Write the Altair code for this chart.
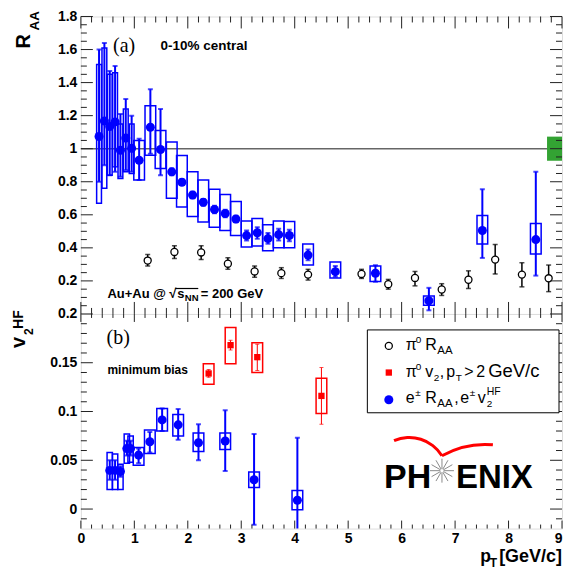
import altair as alt
import pandas as pd

# ---------------- data: upper panel, R_AA ----------------
raa_pt      = [0.34, 0.44, 0.54, 0.64, 0.74, 0.84, 0.95, 1.09, 1.30, 1.49, 1.70, 1.89, 2.09, 2.29,
               2.50, 2.70, 2.90, 3.10, 3.30, 3.50, 3.70, 3.90, 4.25, 4.76, 5.51, 6.51, 7.51, 8.51]
raa_val     = [1.074, 1.168, 1.134, 1.162, 0.990, 1.064, 1.002, 0.930, 1.130, 0.995, 0.860, 0.797, 0.720, 0.676,
               0.632, 0.608, 0.575, 0.474, 0.491, 0.456, 0.480, 0.475, 0.356, 0.256, 0.246, 0.080, 0.505, 0.450]
raa_stat_lo = [0.80, 0.90, 0.84, 0.86, 0.83, 0.87, 0.86, 0.81, 0.97, 0.84, 0.84, 0.78, 0.70, 0.655,
               0.61, 0.585, 0.555, 0.445, 0.455, 0.425, 0.445, 0.44, 0.325, 0.225, 0.195, 0.022, 0.339, 0.232]
raa_stat_hi = [1.60, 1.64, 1.47, 1.50, 1.21, 1.30, 1.20, 1.06, 1.36, 1.24, 0.88, 0.815, 0.74, 0.695,
               0.655, 0.63, 0.595, 0.505, 0.525, 0.49, 0.515, 0.51, 0.39, 0.29, 0.295, 0.158, 0.754, 0.861]
raa_sys_lo  = [0.67, 0.76, 0.84, 0.89, 0.82, 0.86, 0.85, 0.81, 0.96, 0.88, 0.70, 0.647, 0.589, 0.557,
               0.525, 0.505, 0.475, 0.405, 0.411, 0.382, 0.40, 0.40, 0.296, 0.218, 0.197, 0.053, 0.423, 0.363]
raa_sys_hi  = [1.51, 1.61, 1.45, 1.46, 1.15, 1.24, 1.15, 1.05, 1.26, 1.11, 1.04, 0.959, 0.861, 0.811,
               0.754, 0.723, 0.68, 0.563, 0.577, 0.54, 0.563, 0.56, 0.423, 0.314, 0.29, 0.109, 0.596, 0.548]
raa_sys_hw  = [0.045] * 7 + [0.1] * 21

pi0_pt  = [1.25, 1.75, 2.25, 2.75, 3.25, 3.75, 4.25, 5.25, 5.75, 6.25, 6.75, 7.25, 7.75, 8.25, 8.75]
pi0_val = [0.323, 0.375, 0.372, 0.304, 0.257, 0.247, 0.238, 0.242, 0.180, 0.218, 0.148, 0.207, 0.329, 0.238, 0.216]
pi0_lo  = [0.29, 0.335, 0.33, 0.27, 0.222, 0.215, 0.205, 0.215, 0.150, 0.170, 0.112, 0.154, 0.242, 0.164, 0.135]
pi0_hi  = [0.36, 0.413, 0.413, 0.34, 0.29, 0.28, 0.27, 0.27, 0.209, 0.257, 0.183, 0.261, 0.421, 0.31, 0.296]

norm_pt = [8.72, 9.0]
norm_band = [0.927, 1.073]
ref_line = [1.0]

# ---------------- data: lower panel, v2 ----------------
v2_pt      = [0.54, 0.64, 0.74, 0.86, 0.93, 1.08, 1.29, 1.52, 1.82, 2.20, 2.70, 3.24, 4.05]
v2_val     = [0.0396, 0.0396, 0.0385, 0.062, 0.062, 0.0553, 0.069, 0.0914, 0.0863, 0.068, 0.0698, 0.030, 0.009]
v2_stat_lo = [0.030, 0.030, 0.033, 0.055, 0.055, 0.047, 0.058, 0.080, 0.071, 0.050, 0.039, -0.016, -0.030]
v2_stat_hi = [0.050, 0.050, 0.044, 0.070, 0.070, 0.062, 0.079, 0.103, 0.1025, 0.087, 0.1014, 0.077, 0.073]
v2_sys_lo  = [0.020, 0.020, 0.020, 0.047, 0.048, 0.045, 0.057, 0.080, 0.075, 0.059, 0.061, 0.022, -0.0006]
v2_sys_hi  = [0.058, 0.0565, 0.046, 0.077, 0.075, 0.063, 0.081, 0.103, 0.097, 0.078, 0.078, 0.038, 0.019]
v2_sys_hw  = [0.05] * 5 + [0.1] * 8

pv2_pt      = [2.39, 2.80, 3.30, 4.50]
pv2_val     = [0.139, 0.168, 0.1557, 0.116]
pv2_stat_lo = [0.135, 0.163, 0.142, 0.087]
pv2_stat_hi = [0.143, 0.173, 0.169, 0.145]
pv2_sys_lo  = [0.128, 0.149, 0.140, 0.098]
pv2_sys_hi  = [0.149, 0.186, 0.1705, 0.134]
pv2_sys_hw  = [0.1] * 4

# ---------------- axis tick values ----------------
top_y_labels = [0.2, 0.4, 0.6, 0.8, 1.0, 1.2, 1.4, 1.6, 1.8]
top_y_minor = [round(0.05 * i, 2) for i in range(1, 36) if i % 4 != 0]
bot_y_labels = [0.0, 0.05, 0.1, 0.15, 0.2]
bot_y_minor = [round(0.01 * i, 2) for i in range(-1, 20) if i % 5 != 0]
x_labels = list(range(10))
x_minor = [round(0.2 * i, 1) for i in range(1, 45) if i % 5 != 0]

# ---------------- styling ----------------
W, H1, H2 = 482, 298, 215
K = W / 489.0          # annotation x positions were read on a 489 px wide frame
BLUE, RED, GREEN = "#0000ff", "#ff0000", "#33a333"
FONT, SERIF = "Liberation Sans", "Liberation Serif"

xs = alt.Scale(domain=[0, 9], nice=False, zero=False)
ys1 = alt.Scale(domain=[0, 1.8], nice=False, zero=False)
ys2 = alt.Scale(domain=[-0.02, 0.2], nice=False, zero=False)

lab = dict(labelFont=FONT, labelFontSize=14, labelFontWeight="bold", labelColor="black",
           ticks=False, domain=False, grid=False, title=None, labelOverlap=False)
y1_axis = alt.Axis(values=top_y_labels, format="~g", labelPadding=4, **lab)
y2_axis = alt.Axis(values=bot_y_labels, format="~g", labelPadding=4, **lab)
x_axis = alt.Axis(values=x_labels, format="d", labelPadding=3, labelFlush=False,
                  labelAlign={"condition": {"test": "datum.value == 9", "value": "right"},
                              "value": "center"}, **lab)


class Panel:
    def __init__(self, ysc, xaxis, yaxis, H):
        self.ysc, self.xaxis, self.yaxis, self.H = ysc, xaxis, yaxis, H

    def X(self, f):
        return alt.X(f, type="quantitative", scale=xs, axis=self.xaxis)

    def Y(self, f):
        return alt.Y(f, type="quantitative", scale=self.ysc, axis=self.yaxis)

    def ticks(self, vals, axis, length):
        base = alt.Chart(pd.DataFrame({"v": vals})).mark_rule(color="#222", strokeWidth=1)
        if axis == "y":
            return [base.encode(y=self.Y("v"), x=alt.value(0), x2=alt.value(length)),
                    base.encode(y=self.Y("v"), x=alt.value(W - length), x2=alt.value(W))]
        return [base.encode(x=self.X("v"), y=alt.value(self.H - length), y2=alt.value(self.H)),
                base.encode(x=self.X("v"), y=alt.value(0), y2=alt.value(length))]

    def boxes(self, df, color, box_w):
        return alt.Chart(df).mark_rect(filled=False, color=color, strokeWidth=box_w).encode(
            x=self.X("x0"), x2="x1", y=self.Y("slo"), y2="shi")

    def bars(self, df, color, err_w, cap_w, dot_kind=None, dot_size=0):
        base = alt.Chart(df)
        layers = [
            base.mark_rule(color=color, strokeWidth=err_w, clip=True).encode(
                x=self.X("pt"), y=self.Y("elo"), y2="ehi"),
            base.mark_tick(orient="horizontal", color=color, size=cap_w, thickness=err_w,
                           clip=True).encode(x=self.X("pt"), y=self.Y("elo")),
            base.mark_tick(orient="horizontal", color=color, size=cap_w, thickness=err_w,
                           clip=True).encode(x=self.X("pt"), y=self.Y("ehi")),
        ]
        if dot_kind == "circle":
            layers.append(base.mark_circle(color=color, size=dot_size, opacity=1).encode(
                x=self.X("pt"), y=self.Y("v")))
        elif dot_kind == "square":
            layers.append(base.mark_square(color=color, size=dot_size, opacity=1).encode(
                x=self.X("pt"), y=self.Y("v")))
        elif dot_kind == "open":
            layers.append(base.mark_point(shape="circle", filled=True, fill="white", stroke="black",
                                          strokeWidth=1.3, size=dot_size, opacity=1).encode(
                x=self.X("pt"), y=self.Y("v")))
        return layers


def one():
    return alt.Chart(pd.DataFrame({"a": [0]}))


def T(text, x, y, size, weight="normal", font=FONT, color="black", align="left",
      baseline="alphabetic", angle=0):
    return alt.Chart(pd.DataFrame({"t": [text]})).mark_text(
        font=font, fontSize=size, fontWeight=weight, color=color, align=align,
        baseline=baseline, angle=angle
    ).encode(text="t:N", x=alt.value(x), y=alt.value(y))


def frame(pt, v, elo, ehi, slo, shi, hw):
    d = pd.DataFrame(dict(pt=pt, v=v, elo=elo, ehi=ehi, slo=slo, shi=shi, hw=hw))
    d["x0"] = d.pt - d.hw
    d["x1"] = d.pt + d.hw
    return d


raa = frame(raa_pt, raa_val, raa_stat_lo, raa_stat_hi, raa_sys_lo, raa_sys_hi, raa_sys_hw)
v2 = frame(v2_pt, v2_val, v2_stat_lo, v2_stat_hi, v2_sys_lo, v2_sys_hi, v2_sys_hw)
pv2 = frame(pv2_pt, pv2_val, pv2_stat_lo, pv2_stat_hi, pv2_sys_lo, pv2_sys_hi, pv2_sys_hw)
pi0 = pd.DataFrame(dict(pt=pi0_pt, v=pi0_val, elo=pi0_lo, ehi=pi0_hi))
norm = pd.DataFrame(dict(x0=[norm_pt[0]], x1=[norm_pt[1]], y0=[norm_band[0]], y1=[norm_band[1]]))

DOT = 82

# ---------------- upper panel ----------------
P1 = Panel(ys1, None, y1_axis, H1)
top_layers = [
    alt.Chart(pd.DataFrame({"y": ref_line})).mark_rule(color="#666", strokeWidth=1.5).encode(
        y=P1.Y("y"), x=alt.value(0), x2=alt.value(W)),
    alt.Chart(norm).mark_rect(color=GREEN).encode(x=P1.X("x0"), x2="x1", y=P1.Y("y0"), y2="y1"),
    P1.boxes(raa, BLUE, 1.5),
]
top_layers += P1.bars(pi0, "black", 1.5, 5, "open", 50)
top_layers += P1.bars(raa, BLUE, 2, 5, "circle", DOT)
top_layers += P1.ticks(top_y_labels, "y", 12) + P1.ticks(top_y_minor, "y", 6)
top_layers += P1.ticks(x_labels, "x", 12) + P1.ticks(x_minor, "x", 6)
B = H1 - 16
a0 = 27 * K
top_layers += [
    T("(a)", 44 * K, 36, 20, font=SERIF, align="center"),
    T("0-10% central", 81 * K, 34, 13.5, weight="bold"),
    T("Au+Au @", a0, B, 13, weight="bold"),
    T("\u221a", a0 + 62, B, 13, weight="bold"),
    T("s", a0 + 70, B, 13, weight="bold"),
    T("NN", a0 + 77.5, B + 3, 9.5, weight="bold"),
    T("= 200 GeV", a0 + 93.5, B, 13, weight="bold"),
    one().mark_rule(color="black", strokeWidth=1.2).encode(
        x=alt.value(a0 + 68), x2=alt.value(a0 + 91), y=alt.value(H1 - 25.5)),
    T("R", -51, 32, 20, weight="bold", angle=270),
    T("AA", -42, 14, 13.5, weight="bold", angle=270),
]
top = alt.layer(*top_layers).properties(width=W, height=H1)

# ---------------- lower panel ----------------
P2 = Panel(ys2, x_axis, y2_axis, H2)
bot_layers = [P2.boxes(v2, BLUE, 1.5), P2.boxes(pv2, RED, 1.5)]
bot_layers += P2.bars(pv2, RED, 1, 4, "square", 40)
bot_layers += P2.bars(v2, BLUE, 2, 5, "circle", DOT)
bot_layers += P2.ticks(bot_y_labels, "y", 12) + P2.ticks(bot_y_minor, "y", 6)
bot_layers += P2.ticks(x_labels, "x", 8) + P2.ticks(x_minor, "x", 4)

# legend
L = 325.5            # left edge of the legend texts
sym = 308.5
e1, e2, e3 = 36, 62.7, 89
bot_layers += [
    one().mark_rect(fill="white", stroke="black", strokeWidth=1).encode(
        x=alt.value(287), x2=alt.value(W - 3), y=alt.value(16), y2=alt.value(99)),
    one().mark_point(shape="circle", filled=True, fill="white", stroke="black", strokeWidth=1.3,
                     size=50, opacity=1).encode(x=alt.value(sym), y=alt.value(e1 - 4)),
    one().mark_square(color=RED, size=40, opacity=1).encode(x=alt.value(sym), y=alt.value(e2 - 4)),
    one().mark_circle(color=BLUE, size=DOT, opacity=1).encode(x=alt.value(sym), y=alt.value(e3 - 3)),
]
M, S, SA = 16, 10, 11.5
up, dn = -7, 4
bot_layers += [
    T("\u03c0", L, e1, M), T("0", L + 10, e1 + up, S),
    T("R", L + 19.5, e1, M), T("AA", L + 31.5, e1 + dn, SA),
    T("\u03c0", L, e2, M), T("0", L + 10, e2 + up, S),
    T("v", L + 19.5, e2, M), T("2", L + 28, e2 + dn, S),
    T(",", L + 34, e2, M), T("p", L + 40.5, e2, M),
    T("T", L + 50, e2 + dn, S), T(">", L + 58.5, e2, M), T("2", L + 70.5, e2, M),
    T("GeV/c", L + 82.5, e2, 18.5),
    T("e", L, e3, M), T("\u00b1", L + 9.5, e3 + up, S),
    T("R", L + 19.5, e3, M), T("AA", L + 31.5, e3 + dn, SA),
    T(",", L + 48.5, e3, M), T("e", L + 54.5, e3, M),
    T("\u00b1", L + 64, e3 + up, S), T("v", L + 72, e3, M),
    T("2", L + 81, e3 + dn, S), T("HF", L + 81, e3 + up - 1, 10.5),
]
# annotations
bot_layers += [
    T("(b)", 38 * K, 30, 20, font=SERIF, align="center"),
    T("minimum bias", 27 * K, 60, 12, weight="bold"),
    T("v", -56, 34, 20, weight="bold", angle=270),
    T("2", -48, 21, 12, weight="bold", angle=270),
    T("HF", -58, 15, 14, weight="bold", angle=270),
    T("p", W - 82, 248, 17.5, weight="bold"),
    T("T", W - 72.5, 253, 12, weight="bold"),
    T("[GeV/c]", W, 248, 18, weight="bold", align="right"),
]
# PHENIX logo
sx, sy = 367 * K, 157
rays = [(0, -12, 0, 12), (6, -10.4, -6, 10.4), (10.4, -6, -10.4, 6), (12, 0, -12, 0),
        (10.4, 6, -10.4, -6), (6, 10.4, -6, -10.4)]
for dx1, dy1, dx2, dy2 in rays:
    bot_layers.append(
        one().mark_rule(color="#8a8a8a", strokeWidth=1).encode(
            x=alt.value(sx + dx1), y=alt.value(sy + dy1),
            x2=alt.value(sx + dx2), y2=alt.value(sy + dy2)))
bot_layers += [
    one().mark_circle(color="white", size=12, opacity=1).encode(x=alt.value(sx), y=alt.value(sy)),
    T("PH", sx - 58, 174, 34, weight="bold"),
    T("ENIX", sx + 14, 174, 33, weight="bold"),
    one().mark_arc(color=RED, theta=5.873, theta2=7.30, radius=39.9, radius2=36.9).encode(
        x=alt.value(sx - 32.7), y=alt.value(162.2)),
    one().mark_arc(color=RED, theta=5.770, theta2=6.372, radius=89.6, radius2=86.6).encode(
        x=alt.value(sx + 43.2), y=alt.value(218.8)),
]
bot = alt.layer(*bot_layers).properties(width=W, height=H2)

chart = alt.vconcat(top, bot, spacing=0, bounds="flush").properties(
    padding={"left": 0, "top": 0, "right": 0, "bottom": 0}
).configure_view(stroke="black", strokeWidth=1.5).configure(background="white", font=FONT)

chart.save("out.html", embed_options={"renderer": "svg", "actions": False})
